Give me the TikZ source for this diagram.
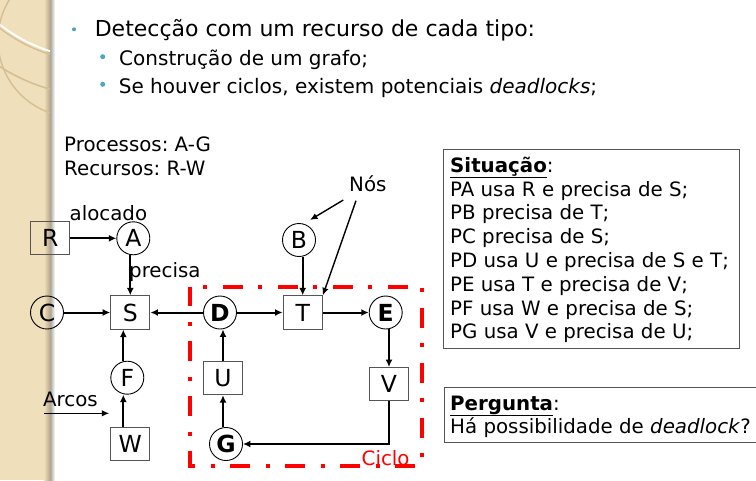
\documentclass[tikz,border=0pt]{standalone}
\usepackage{fontspec}
\setmainfont{DejaVu Sans}
\usetikzlibrary{arrows.meta,calc}
\frenchspacing
\definecolor{strip}{RGB}{239,224,187}
\definecolor{stripdark}{RGB}{176,156,126}
\definecolor{stripline}{RGB}{214,190,146}
\definecolor{bul}{RGB}{75,166,196}
\definecolor{boxgray}{RGB}{85,85,85}
\begin{document}
\begin{tikzpicture}[x=1pt,y=-1pt,
  body/.style={font=\fontsize{19.8}{23.8}\selectfont, inner sep=0pt, anchor=base west},
  res/.style={draw=boxgray, line width=1pt, minimum width=39.3pt, minimum height=33.3pt, inner sep=0pt, font=\fontsize{23.5}{23.5}\selectfont},
  proc/.style={draw=black, circle, line width=0.9pt, minimum size=33pt, inner sep=0pt, font=\fontsize{23.5}{23.5}\selectfont},
  arr/.style={line width=2pt, -{Latex[length=7.5pt,width=7pt]}},
  bdot/.style={fill=bul, draw=none, circle, inner sep=0pt},
]
\useasboundingbox (0,0) rectangle (756,480);
\fill[white] (0,0) rectangle (756,480);
% left decorative strip
\fill[strip] (0,0) rectangle (50,480);
\shade[left color=strip, right color=stripdark] (44,0) rectangle (51,480);
\shade[left color=black!30, right color=white] (51,0) rectangle (55,480);
\begin{scope}
  \clip (0,0) rectangle (50,480);
  \draw[stripline, line width=1.6pt] (100,-89) circle[radius=185pt];
  \draw[white, line width=1.8pt] (100,-104) circle[radius=163pt];
  \draw[stripline, line width=1.4pt] (100,-102.3) circle[radius=164.5pt];
  \draw[stripline, line width=1.4pt] (75,40) circle[radius=77pt];
\end{scope}

% bullets and header text
\node[bdot, minimum size=4pt] (b1) at (74,29.3) {};
\node[bdot, minimum size=5pt] (b2) at (102.7,56.7) {};
\node[bdot, minimum size=5pt] (b3) at (102.7,84.3) {};
\node[font=\fontsize{22}{26}\selectfont, inner sep=0pt, anchor=base west] (h1) at (94.6,36.7) {Detecção com um recurso de cada tipo:};
\node[font=\fontsize{20}{24}\selectfont, inner sep=0pt, anchor=base west] (h2) at (119,65) {Construção de um grafo;};
\node[font=\fontsize{20}{24}\selectfont, inner sep=0pt, anchor=base west] (h3) at (118.7,93.3) {Se houver ciclos, existem potenciais \textit{deadlocks};};

\node[body] (proc) at (64,151.7) {Processos: A-G};
\node[body] (recs) at (64,175.7) {Recursos: R-W};

% graph nodes
\node[res]  (R) at (50.3,238.3) {R};
\node[proc] (A) at (133.3,238.3) {A};
\node[proc] (C) at (47,312.5) {C};
\node[res]  (S) at (130.3,312.5) {S};
\node[proc] (F) at (127.3,377.7) {F};
\node[res]  (W) at (130.3,444.3) {W};
\node[proc] (D) at (220,312.5) {\textbf{D}};
\node[res]  (T) at (302.7,312.5) {T};
\node[proc] (E) at (385.7,312.5) {\textbf{E}};
\node[proc] (B) at (299,240) {B};
\node[res]  (U) at (223,378) {U};
\node[res]  (V) at (389,384.2) {V};
\node[proc] (G) at (226,444) {\textbf{G}};

% labels
\node[body] (aloc) at (69.5,220) {alocado};
\node[body] (prec) at (129,277) {precisa};
\node[body] (arcos) at (43,406) {Arcos};
\node[body] (nos) at (349,191.5) {Nós};

% connectors
\draw[arr] (R) -- (A);
\draw[arr] (A.south -| S.north) -- (S.north);
\draw[arr] (C) -- (S);
\draw[arr] ([xshift=-4pt]F.north) -- ([xshift=-4pt]F.north |- S.south);
\draw[arr] ([xshift=-7pt]W.north) -- ([xshift=-7pt]W.north |- F.south);
\draw[arr] (D) -- (S);
\draw[arr] (D) -- (T);
\draw[arr] (T) -- (E);
\draw[arr] (V.north |- E.south) -- (V.north);
\draw[arr] (V.south) -- (V.south |- G.east) -- (G.east);
\draw[arr] (U.south |- G.north) -- (U.south);
\draw[arr] (U.north) -- (U.north |- D.south);
\draw[arr] (T.north |- B.south) -- (T.north);

% annotation arrows
\coordinate (n1) at (343.3,200);
\coordinate (n1t) at (310,220);
\coordinate (n2) at (356,200.7);
\coordinate (a1) at (44,413.3);
\coordinate (a2) at (109.3,413.3);
\draw[line width=1.4pt, -{Latex[length=7.5pt,width=6.5pt]}] (n1) -- (n1t);
\draw[line width=1.4pt, -{Latex[length=7.5pt,width=6.5pt]}] (n2) -- (T.north east);
\draw[line width=1.4pt, -{Latex[length=7.5pt,width=6.5pt]}] (a1) -- (a2);

% cycle frame
\draw[red, line width=4pt, dash pattern=on 20pt off 15pt on 4pt off 16pt, dash phase=22pt] (190,287) -- (422,287) -- (422,466) -- (190,466) -- cycle;
\node[body, text=red] (ciclo) at (361.5,465) {Ciclo};

% situation box
\draw[boxgray, line width=1pt] (443,149) rectangle (739,348);
\node[body] (s0) at (450,172.3) {\underline{\textbf{Situação}}:};
\node[body] (s1) at (450,196.1) {PA usa R e precisa de S;};
\node[body] (s2) at (450,219.9) {PB precisa de T;};
\node[body] (s3) at (450,243.7) {PC precisa de S;};
\node[body] (s4) at (450,267.5) {PD usa U e precisa de S e T;};
\node[body] (s5) at (450,291.3) {PE usa T e precisa de V;};
\node[body] (s6) at (450,315.1) {PF usa W e precisa de S;};
\node[body] (s7) at (450,338.9) {PG usa V e precisa de U;};

% question box
\draw[boxgray, line width=1pt] (444,387) rectangle (770,442);
\node[body] (q0) at (450,410) {\underline{\textbf{Pergunta}}:};
\node[body] (q1) at (450,433) {Há possibilidade de \textit{deadlock}?};
\end{tikzpicture}
\end{document}
